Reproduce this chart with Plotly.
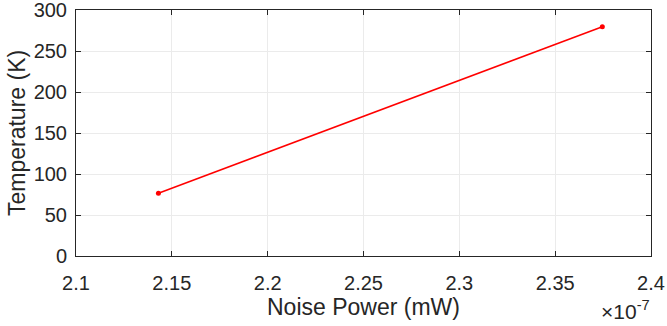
import plotly.graph_objects as go

noise_power_mw = [2.143e-7, 2.3746e-7]
temperature_k = [76.5, 279.6]
x_ticks = [2.1, 2.15, 2.2, 2.25, 2.3, 2.35, 2.4]
x_tick_labels = ["2.1", "2.15", "2.2", "2.25", "2.3", "2.35", "2.4"]
y_ticks = [0, 50, 100, 150, 200, 250, 300]

scale = 1e-7
x_scaled = [v / scale for v in noise_power_mw]

fig = go.Figure()
fig.add_trace(go.Scatter(
    x=x_scaled, y=temperature_k, mode="lines+markers",
    line=dict(color="#FF0000", width=1.5),
    marker=dict(color="#FF0000", size=5),
    showlegend=False,
))

font_family = "Liberation Sans, Arial, sans-serif"
text_color = "#262626"
axis_common = dict(
    showline=True, linecolor=text_color, linewidth=1, mirror="ticks",
    ticks="inside", ticklen=5, tickcolor=text_color,
    showgrid=True, gridcolor="#EBEBEB", gridwidth=1,
    zeroline=False, automargin=False, ticklabeloverflow="allow",
    tickfont=dict(family=font_family, size=20, color=text_color),
)
fig.update_xaxes(range=[2.1, 2.4], tickvals=x_ticks, ticktext=x_tick_labels,
                 ticklabelstandoff=9, **axis_common)
fig.update_yaxes(range=[0, 300], tickvals=y_ticks, ticklabelstandoff=4, **axis_common)

fig.add_annotation(
    x=0.5, y=0, xref="paper", yref="paper", xanchor="center", yanchor="middle",
    yshift=-51, showarrow=False, text="Noise Power (mW)",
    font=dict(family=font_family, size=23, color=text_color),
)
fig.add_annotation(
    x=0, y=0.5, xref="paper", yref="paper", xanchor="center", yanchor="middle",
    xshift=-59, showarrow=False, text="Temperature (K)", textangle=-90,
    font=dict(family=font_family, size=23, color=text_color),
)
fig.add_annotation(
    x=1.0, y=0, xref="paper", yref="paper", xanchor="right", yanchor="middle",
    yshift=-54, xshift=1, showarrow=False,
    text="×10<sup>-7</sup>",
    font=dict(family=font_family, size=21, color=text_color),
)
fig.update_layout(
    width=667, height=326,
    margin=dict(l=76, r=16, t=10, b=70),
    plot_bgcolor="white", paper_bgcolor="white",
)
fig.write_html(
    "out.html",
    config={"displayModeBar": False},
    post_script="document.body.style.margin='0';document.body.style.overflow='hidden';",
)
